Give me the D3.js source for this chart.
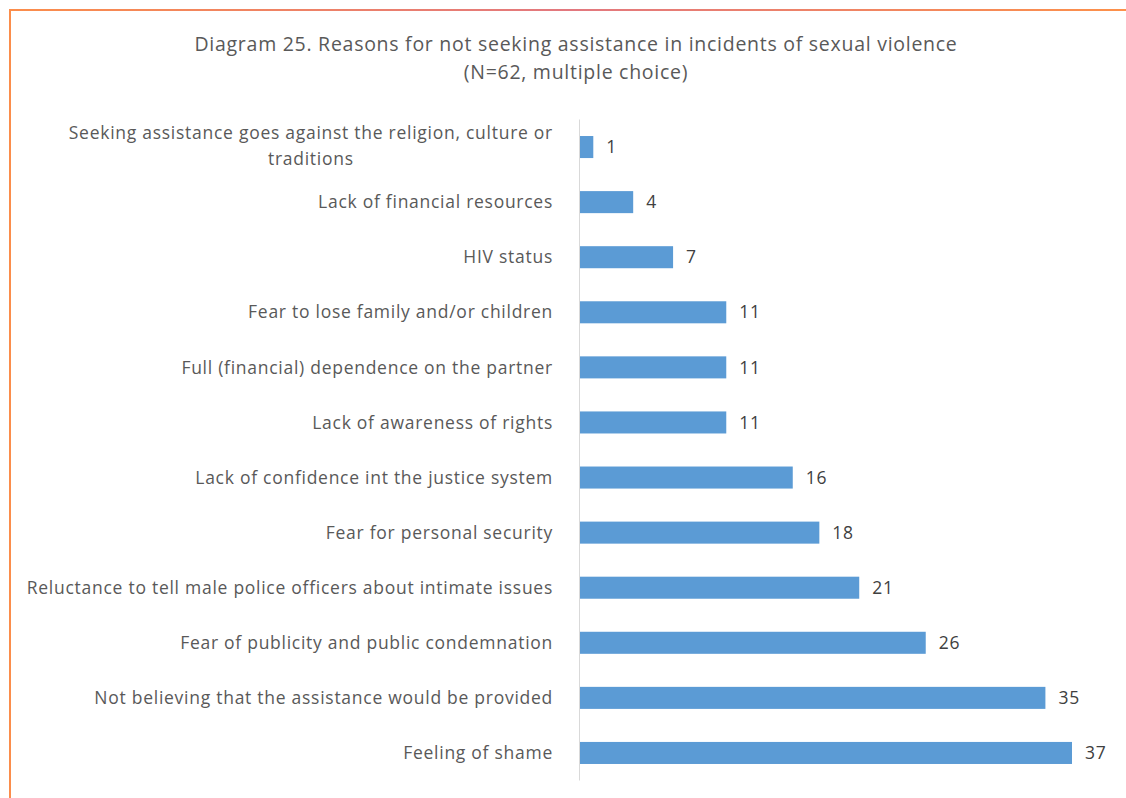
<!DOCTYPE html>
<html><head><meta charset="utf-8">
<script src="https://cdn.jsdelivr.net/npm/d3@7"></script>
<style>body{margin:0;background:#fff}svg{display:block}</style>
</head><body>
<script>
const categories = [
  "Seeking assistance goes against the religion, culture or traditions",
  "Lack of financial resources",
  "HIV status",
  "Fear to lose family and/or children",
  "Full (financial) dependence on the partner",
  "Lack of awareness of rights",
  "Lack of confidence int the justice system",
  "Fear for personal security",
  "Reluctance to tell male police officers about intimate issues",
  "Fear of publicity and public condemnation",
  "Not believing that the assistance would be provided",
  "Feeling of shame"
];
const values = [1, 4, 7, 11, 11, 11, 16, 18, 21, 26, 35, 37];
const titleLines = ["Diagram 25. Reasons for not seeking assistance in incidents of sexual violence", "(N=62, multiple choice)"];

const W = 1126, H = 798;
const svg = d3.select("body").append("svg").attr("width", W).attr("height", H);
const font = "'Open Sans', sans-serif";
const fs = 17.5, ls = "0.73px";

const defs = svg.append("defs");
const g = defs.append("linearGradient").attr("id","bord").attr("x1","0").attr("x2","1").attr("y1","0").attr("y2","0");
g.append("stop").attr("offset","0").attr("stop-color","#fb8d4b");
g.append("stop").attr("offset","0.5").attr("stop-color","#e2787f");
g.append("stop").attr("offset","1").attr("stop-color","#fd9149");
svg.append("rect").attr("x",9).attr("y",9).attr("width",W).attr("height",2).attr("fill","url(#bord)");
svg.append("rect").attr("x",9).attr("y",9).attr("width",2).attr("height",H).attr("fill","#fb8d4b");

svg.selectAll("text.title").data(titleLines).enter().append("text")
  .attr("x", 576).attr("y", (d,i)=> 51 + i*28)
  .attr("text-anchor","middle").attr("font-family",font).attr("font-size",19.5)
  .attr("letter-spacing","0.73px")
  .attr("fill","#595959").text(d=>d);

const x0 = 580;
const x = d3.scaleLinear().domain([0, 37]).range([x0, 1072]);
const y = d3.scaleBand().domain(categories).range([119.5, 780.5]).paddingInner(0.6).paddingOuter(0.3);

svg.selectAll("rect.bar").data(values).enter().append("rect")
  .attr("x", x(0)).attr("y", (d,i)=> y(categories[i]))
  .attr("width", d=> x(d)-x(0)).attr("height", y.bandwidth()).attr("fill","#5b9bd5");

svg.append("line").attr("x1",579.5).attr("x2",579.5).attr("y1",119.5).attr("y2",780.5)
  .attr("stroke","#d9d9d9").attr("stroke-width",1);

svg.selectAll("text.val").data(values).enter().append("text")
  .attr("x", d=> x(d)+13).attr("y", (d,i)=> y(categories[i]) + y.bandwidth()/2)
  .attr("dy","0.35em").attr("font-family",font).attr("font-size",fs).attr("letter-spacing",ls)
  .attr("fill","#404040").text(d=>d);

const labelX = 553;
categories.forEach((c,i)=>{
  const cy = y(c) + y.bandwidth()/2;
  if (i === 0) {
    const l1 = "Seeking assistance goes against the religion, culture or";
    const l2 = "traditions";
    const t1 = svg.append("text").attr("font-family",font).attr("font-size",fs).attr("letter-spacing",ls).attr("fill","#595959").text(l1);
    const w = t1.node().getComputedTextLength();
    const cx = labelX - w/2;
    t1.attr("x", cx).attr("text-anchor","middle").attr("y", cy-14).attr("dy","0.35em");
    svg.append("text").attr("font-family",font).attr("font-size",fs).attr("letter-spacing",ls).attr("fill","#595959")
      .attr("x", cx).attr("text-anchor","middle").attr("y", cy+12).attr("dy","0.35em").text(l2);
  } else {
    svg.append("text").attr("font-family",font).attr("font-size",fs).attr("letter-spacing",ls).attr("fill","#595959")
      .attr("x", labelX).attr("y", cy).attr("dy","0.35em").attr("text-anchor","end").text(c);
  }
});
</script>
</body></html>
